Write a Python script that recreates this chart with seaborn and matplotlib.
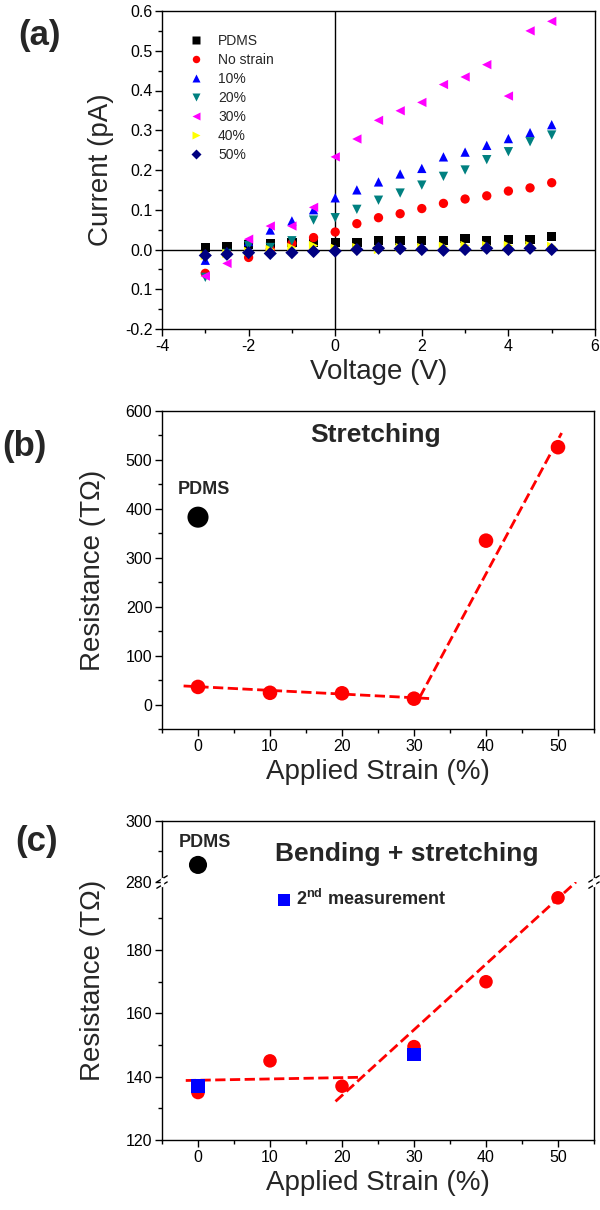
import numpy as np
import pandas as pd
import matplotlib
matplotlib.use('Agg')
import matplotlib.pyplot as plt
from matplotlib.ticker import FixedLocator, FixedFormatter, MultipleLocator
import seaborn as sns

sns.set_theme(style='ticks')
plt.rcParams['font.family'] = ['Liberation Sans', 'DejaVu Sans']
plt.rcParams['axes.unicode_minus'] = False
plt.rcParams['mathtext.fontset'] = 'custom'
plt.rcParams['mathtext.bf'] = 'Liberation Sans:bold'
plt.rcParams['mathtext.rm'] = 'Liberation Sans'

# ---------------- panel (a): I-V curves ----------------
voltage = [-3, -2.5, -2, -1.5, -1, -0.5, 0, 0.5, 1, 1.5, 2, 2.5, 3, 3.5, 4, 4.5, 5]
cur_pdms = [0.005, 0.008, 0.013, 0.015, 0.017, 0.019, 0.018, 0.017, 0.023, 0.023,
            0.023, 0.023, 0.027, 0.023, 0.026, 0.026, 0.032]
cur_nostrain = [-0.06, -0.01, -0.02, 0.0, 0.015, 0.03, 0.044, 0.065, 0.08, 0.09,
                0.103, 0.116, 0.127, 0.135, 0.147, 0.155, 0.168]
cur_10 = [-0.027, -0.005, 0.02, 0.049, 0.072, 0.1, 0.13, 0.15, 0.17, 0.19,
          0.204, 0.233, 0.245, 0.262, 0.279, 0.294, 0.314]
cur_20 = [-0.07, -0.01, 0.01, 0.005, 0.022, 0.074, 0.08, 0.101, 0.124, 0.142,
          0.162, 0.184, 0.2, 0.226, 0.246, 0.271, 0.288]
cur_30 = [-0.067, -0.035, 0.026, 0.059, 0.059, 0.106, 0.233, 0.278, 0.325, 0.349,
          0.37, 0.415, 0.434, 0.465, 0.386, 0.55, 0.574]
cur_40 = [-0.015, -0.01, -0.005, 0.0, 0.005, 0.01, 0.003, 0.005, 0.0, 0.005,
          0.005, 0.008, 0.01, 0.01, 0.01, 0.01, 0.008]
cur_50 = [-0.015, -0.012, -0.008, -0.01, -0.008, -0.005, -0.004, 0.0, 0.003, 0.002,
          0.0, -0.002, 0.0, 0.003, 0.0, 0.003, 0.0]
series_names = ['PDMS', 'No strain', '10%', '20%', '30%', '40%', '50%']
series_colors = ['black', 'red', 'blue', '#008080', '#FF00FF', '#FFFF00', '#000080']
series_markers = ['s', 'o', '^', 'v', '<', '>', 'D']
a_yticks = [-0.2, -0.1, 0.0, 0.1, 0.2, 0.3, 0.4, 0.5, 0.6]
a_yticklabels = ['-0.2', '0.1', '0.0', '0.1', '0.2', '0.3', '0.4', '0.5', '0.6']

# ---------------- panel (b): stretching ----------------
strain = [0, 10, 20, 30, 40, 50]
res_stretch = [36, 24, 23, 12, 335, 526]
pdms_b = 383
fit_b1_x, fit_b1_y = [-2, 32.5], [38, 12]
fit_b2_x, fit_b2_y = [30.8, 50.5], [15, 555]

# ---------------- panel (c): bending + stretching ----------------
res_bend = [135, 145, 137, 149.5, 170, 196.5]
second_x = [0, 30]
second_y = [137, 147]
pdms_c = 285.6
fit_c1_x, fit_c1_y = [-1.7, 22.3], [138.8, 139.8]
fit_c2_x, fit_c2_y = [19.1, 52.5], [132.2, 201.5]
c_low_ticks = [120, 140, 160, 180]
c_low_minor = [130, 150, 170, 190]

W, H = 600, 1210
fig = plt.figure(figsize=(W / 100, H / 100), dpi=100)


def box(l, t, r, b):
    return [l / W, 1 - b / H, (r - l) / W, (b - t) / H]


def style_axes(ax, fs=11.5):
    for s in ax.spines.values():
        s.set_linewidth(1.0)
        s.set_color('black')
    ax.tick_params(which='both', direction='out', top=False, right=False,
                   labelsize=fs, color='black', labelcolor='black', pad=2)
    ax.tick_params(which='major', length=5, width=1)
    ax.tick_params(which='minor', length=3, width=1)


# ---- (a)
ax1 = fig.add_axes(box(162, 11, 595, 329))
rows = []
for name, vals in zip(series_names, [cur_pdms, cur_nostrain, cur_10, cur_20, cur_30, cur_40, cur_50]):
    for v, c in zip(voltage, vals):
        rows.append({'Voltage': v, 'Current': c, 'Sample': name})
df_a = pd.DataFrame(rows)
ax1.axhline(0, color='black', lw=1, zorder=1)
ax1.axvline(0, color='black', lw=1, zorder=1)
sns.scatterplot(data=df_a, x='Voltage', y='Current', hue='Sample', style='Sample',
                hue_order=series_names, style_order=series_names,
                palette=series_colors, markers=series_markers, s=45,
                edgecolor='none', ax=ax1, zorder=3)
ax1.set_xlim(-4, 6)
ax1.set_ylim(-0.2, 0.6)
ax1.xaxis.set_major_locator(MultipleLocator(2))
ax1.xaxis.set_minor_locator(MultipleLocator(1))
ax1.yaxis.set_major_locator(FixedLocator(a_yticks))
ax1.yaxis.set_major_formatter(FixedFormatter(a_yticklabels))
ax1.yaxis.set_minor_locator(MultipleLocator(0.05))
style_axes(ax1)
ax1.set_xlabel('Voltage (V)', fontsize=20, labelpad=4)
ax1.set_ylabel('Current (pA)', fontsize=20, labelpad=8)
leg = ax1.legend(loc='upper left', bbox_to_anchor=(0.03, 0.95), frameon=False,
                 fontsize=10, labelspacing=0.36, handletextpad=0.6,
                 markerscale=0.8, borderpad=0)

# ---- (b)
ax2 = fig.add_axes(box(162, 411, 594, 729))
sns.lineplot(x=fit_b1_x, y=fit_b1_y, color='red', lw=2, linestyle='--', ax=ax2)
sns.lineplot(x=fit_b2_x, y=fit_b2_y, color='red', lw=2, linestyle='--', ax=ax2)
sns.scatterplot(x=strain, y=res_stretch, color='red', s=110, edgecolor='none', ax=ax2, zorder=3)
sns.scatterplot(x=[0], y=[pdms_b], color='black', s=230, edgecolor='none', ax=ax2, zorder=3)
ax2.set_xlim(-5, 55)
ax2.set_ylim(-50, 600)
ax2.xaxis.set_major_locator(MultipleLocator(10))
ax2.xaxis.set_minor_locator(MultipleLocator(5))
ax2.yaxis.set_major_locator(MultipleLocator(100))
ax2.yaxis.set_minor_locator(MultipleLocator(50))
style_axes(ax2)
ax2.text(0.8, 440, 'PDMS', fontsize=13, fontweight='bold', ha='center', va='center')
ax2.text(24.6, 550, 'Stretching', fontsize=19, fontweight='bold', ha='center', va='center')
ax2.set_xlabel('Applied Strain (%)', fontsize=20, labelpad=4)
ax2.set_ylabel('Resistance (T\u03a9)', fontsize=20, labelpad=14)

# ---- (c) broken axis
ax3t = fig.add_axes(box(162, 821, 594, 882))
ax3 = fig.add_axes(box(162, 882, 594, 1140))
sns.scatterplot(x=[0], y=[pdms_c], color='black', s=170, edgecolor='none', ax=ax3t, zorder=3)
ax3t.set_xlim(-5, 55)
ax3t.set_ylim(280, 300)
ax3t.yaxis.set_major_locator(MultipleLocator(20))
ax3t.yaxis.set_minor_locator(MultipleLocator(10))
style_axes(ax3t)
ax3t.tick_params(axis='x', which='both', bottom=False, labelbottom=False)
ax3t.spines['bottom'].set_visible(False)
ax3t.set_xlabel('')
ax3t.set_ylabel('')
ax3t.text(1, 292.8, 'PDMS', fontsize=13, fontweight='bold', ha='center', va='center')
ax3t.text(29, 289.3, 'Bending + stretching', fontsize=19, fontweight='bold',
          ha='center', va='center')

sns.lineplot(x=fit_c1_x, y=fit_c1_y, color='red', lw=2, linestyle='--', ax=ax3)
sns.lineplot(x=fit_c2_x, y=fit_c2_y, color='red', lw=2, linestyle='--', ax=ax3)
sns.scatterplot(x=strain, y=res_bend, color='red', s=95, edgecolor='none', ax=ax3, zorder=3)
sns.scatterplot(x=second_x, y=second_y, color='blue', marker='s', s=95, edgecolor='none',
                ax=ax3, zorder=4, label='2$^{\\mathbf{nd}}$ measurement')
ax3.set_xlim(-5, 55)
ax3.set_ylim(120, 201.5)
ax3.xaxis.set_major_locator(MultipleLocator(10))
ax3.xaxis.set_minor_locator(MultipleLocator(5))
ax3.yaxis.set_major_locator(FixedLocator(c_low_ticks))
ax3.yaxis.set_minor_locator(FixedLocator(c_low_minor))
style_axes(ax3)
ax3.spines['top'].set_visible(False)
ax3.legend(loc='center left', bbox_to_anchor=(0.24, 0.935), frameon=False,
           prop={'size': 13, 'weight': 'bold'}, handletextpad=0.2, borderpad=0,
           handlelength=1.0, markerscale=0.9)
ax3.set_xlabel('Applied Strain (%)', fontsize=20, labelpad=4)
ax3.set_ylabel('')
fig.text(0.155, 1 - 980 / H, 'Resistance (T\u03a9)', fontsize=20, rotation=90,
         ha='center', va='center')

# break marks on both spines
for xpos in (0, 1):
    for dy in (-0.012, 0.012):
        ax3.plot([xpos - 0.012, xpos + 0.012], [1 + dy - 0.012, 1 + dy + 0.012],
                 transform=ax3.transAxes, color='black', lw=1, clip_on=False)
    ax3.plot([xpos, xpos], [0.988, 1.012], transform=ax3.transAxes, color='white',
             lw=2.5, clip_on=False, zorder=5)

# panel letters
fig.text(0.03, 1 - 35 / H, '(a)', fontsize=25, fontweight='bold', va='center')
fig.text(0.003, 1 - 447 / H, '(b)', fontsize=25, fontweight='bold', va='center')
fig.text(0.025, 1 - 842 / H, '(c)', fontsize=25, fontweight='bold', va='center')

fig.savefig('out.png', dpi=100, facecolor='white')
